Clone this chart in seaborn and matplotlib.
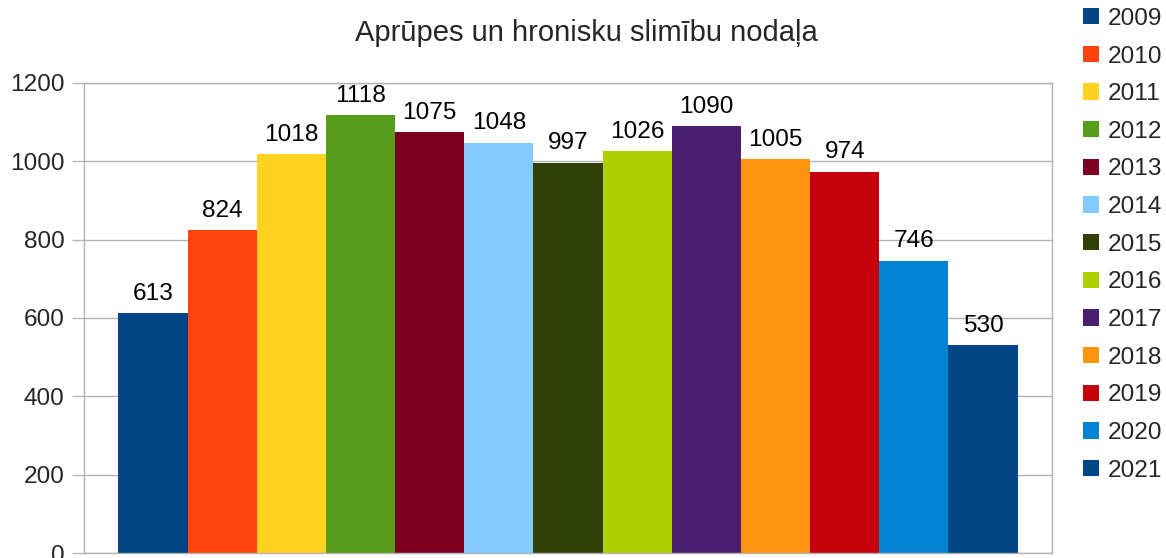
import matplotlib
matplotlib.use("Agg")
import matplotlib.pyplot as plt
import seaborn as sns
import pandas as pd
from matplotlib.patches import Patch

years = ["2009", "2010", "2011", "2012", "2013", "2014", "2015",
         "2016", "2017", "2018", "2019", "2020", "2021"]
values = [613, 824, 1018, 1118, 1075, 1048, 997, 1026, 1090, 1005, 974, 746, 530]
colors = ["#004586", "#ff420e", "#ffd320", "#579d1c", "#7e0021", "#83caff",
          "#314004", "#aecf00", "#4b1f6f", "#ff950e", "#c5000b", "#0084d1", "#004586"]
title = "Aprūpes un hronisku slimību nodaļa"

sns.set_theme(style="white")
plt.rcParams['font.family'] = ['Liberation Sans', 'DejaVu Sans']

df = pd.DataFrame({"cat": [""] * len(years), "year": years, "value": values})

FS = 17.6

fig = plt.figure(figsize=(11.66, 5.58), dpi=100)
ax = fig.add_axes([84 / 1166, 5 / 558, (1052 - 84) / 1166, (553 - 83) / 558])

sns.barplot(data=df, x="cat", y="value", hue="year", hue_order=years,
            palette=colors, width=0.929, saturation=1, ax=ax, legend=False,
            linewidth=0, errorbar=None)

ax.set_xlim(-0.5, 0.5)
ax.set_ylim(0, 1200)
ax.set_yticks(range(0, 1201, 200))
ax.tick_params(axis="y", labelsize=FS, length=8.5, color="#b3b3b3", width=1, pad=5.5, left=True)
ax.tick_params(axis="x", bottom=False, labelbottom=False)
ax.set_xlabel("")
ax.set_ylabel("")
ax.yaxis.grid(True, color="#b3b3b3", linewidth=1)
ax.set_axisbelow(True)
for s in ax.spines.values():
    s.set_color("#b3b3b3")
    s.set_linewidth(1)

for cont in ax.containers:
    ax.bar_label(cont, fmt="%d", padding=6, fontsize=FS, color="black")

fig.text(586 / 1166, 1 - 33 / 558, title, ha="center", va="center", fontsize=21)

handles = [Patch(facecolor=c, edgecolor="none") for c in colors]
fig.legend(handles, years, loc="upper left", bbox_to_anchor=(1078 / 1166, 1 - 3 / 558),
           frameon=False, fontsize=FS, handlelength=0.65, handleheight=0.65,
           handletextpad=0.36, labelspacing=0.64, borderaxespad=0, borderpad=0.2)

fig.savefig("out.png", dpi=100)
